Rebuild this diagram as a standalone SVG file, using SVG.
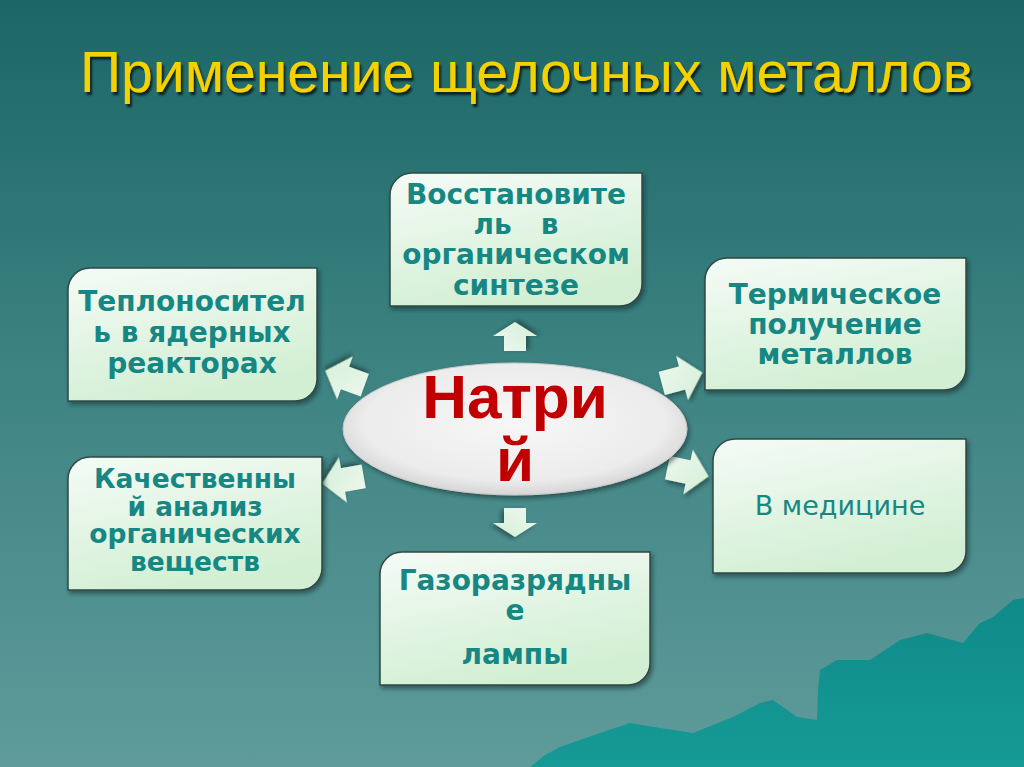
<svg xmlns="http://www.w3.org/2000/svg" width="1024" height="767" viewBox="0 0 1024 767">
<defs>
<linearGradient id="bg" x1="0" y1="0" x2="0" y2="1">
<stop offset="0" stop-color="#1b6666"/>
<stop offset="0.5" stop-color="#3e8483"/>
<stop offset="1" stop-color="#5f9b9b"/>
</linearGradient>
<linearGradient id="boxg" x1="0" y1="0" x2="0.4" y2="1">
<stop offset="0" stop-color="#f5fbf7"/>
<stop offset="1" stop-color="#d2efd3"/>
</linearGradient>
<linearGradient id="arrg" x1="0" y1="0" x2="1" y2="1">
<stop offset="0" stop-color="#eef8f0"/>
<stop offset="1" stop-color="#d4efd6"/>
</linearGradient>
<radialGradient id="ellg" cx="0.5" cy="0.45" r="0.55">
<stop offset="0" stop-color="#f7f7f7"/>
<stop offset="0.8" stop-color="#ececec"/>
<stop offset="1" stop-color="#d6d6d6"/>
</radialGradient>
<linearGradient id="mtn" x1="0" y1="0" x2="0" y2="1">
<stop offset="0" stop-color="#0f8a88"/>
<stop offset="1" stop-color="#169a96"/>
</linearGradient>
<filter id="sh" x="-10%" y="-10%" width="125%" height="130%">
<feDropShadow dx="2" dy="3" stdDeviation="2" flood-color="#0a2a28" flood-opacity="0.55"/>
</filter>
<filter id="tsh" x="-5%" y="-20%" width="110%" height="150%">
<feDropShadow dx="2" dy="3" stdDeviation="1.2" flood-color="#000000" flood-opacity="0.7"/>
</filter>
<polygon id="sideArrow" points="-21,-12 0,-12 0,-23 21,0 0,23 0,12 -21,12"/>
<polygon id="vArrow" points="-15,-11 0,-11 0,-22 14,0 0,22 0,11 -15,11"/>
</defs>
<style>
.box{fill:url(#boxg);stroke:#2e4a46;stroke-width:1.5;filter:url(#sh)}
.t{font-family:"DejaVu Sans",Verdana,sans-serif;font-weight:bold;font-size:28px;fill:#168783;text-anchor:middle}
.ts{font-size:26.5px}
.tn{font-family:"DejaVu Sans",Verdana,sans-serif;font-size:27px;fill:#168783;text-anchor:middle}
.arr{fill:url(#arrg);filter:url(#sh)}
</style>
<rect width="1024" height="767" fill="url(#bg)"/>
<polygon fill="url(#mtn)" points="530,767 545,755 560,747 600,733 630,723 660,728 693,733 733,717 760,703 773,700 790,712 797,717 817,720 818,690 820,670 837,660 870,660 900,640 927,633 963,643 980,623 993,617 1013,600 1024,598 1024,767"/>
<text x="80" y="92" font-family="Liberation Sans, Arial, sans-serif" font-size="58" fill="#f5d100" filter="url(#tsh)" textLength="893" lengthAdjust="spacingAndGlyphs">Применение щелочных металлов</text>

<g id="connectors">
<use href="#vArrow" class="arr" transform="translate(515,336) rotate(-90)"/>
<use href="#vArrow" class="arr" transform="translate(515,523) rotate(90)"/>
<use href="#sideArrow" class="arr" transform="translate(345,378) rotate(200)"/>
<use href="#sideArrow" class="arr" transform="translate(682,378) rotate(-15)"/>
<use href="#sideArrow" class="arr" transform="translate(343,480) rotate(170)"/>
<use href="#sideArrow" class="arr" transform="translate(688,472) rotate(12)"/>
</g>

<g id="center">
<ellipse cx="515" cy="429" rx="172" ry="66" fill="url(#ellg)" stroke="#c8c8c8" stroke-width="1" filter="url(#sh)"/>
<text x="515" y="418" font-family="Liberation Sans, Arial, sans-serif" font-weight="bold" font-size="62" fill="#c00000" text-anchor="middle">Натри</text>
<text x="515" y="481" font-family="Liberation Sans, Arial, sans-serif" font-weight="bold" font-size="62" fill="#c00000" text-anchor="middle">й</text>
</g>

<g id="n-top">
<path class="box" d="M412,173 H642 V284 A22,22 0 0 1 620,306 H390 V195 A22,22 0 0 1 412,173 Z"/>
<text class="t"><tspan x="516" y="204">Восстановите</tspan><tspan x="516" y="234" xml:space="preserve">ль   в</tspan><tspan x="516" y="264">органическом</tspan><tspan x="516" y="295">синтезе</tspan></text>
</g>

<g id="n-lefttop">
<path class="box" d="M90,268 H317 V379 A22,22 0 0 1 295,401 H68 V290 A22,22 0 0 1 90,268 Z"/>
<text class="t"><tspan x="192" y="311">Теплоносител</tspan><tspan x="192" y="342">ь в ядерных</tspan><tspan x="192" y="373">реакторах</tspan></text>
</g>

<g id="n-righttop">
<path class="box" d="M727,258 H966 V368 A22,22 0 0 1 944,390 H705 V280 A22,22 0 0 1 727,258 Z"/>
<text class="t"><tspan x="835" y="304">Термическое</tspan><tspan x="835" y="334">получение</tspan><tspan x="835" y="364">металлов</tspan></text>
</g>

<g id="n-leftbottom">
<path class="box" d="M90,457 H322 V568 A22,22 0 0 1 300,590 H68 V479 A22,22 0 0 1 90,457 Z"/>
<text class="t ts"><tspan x="195" y="488">Качественны</tspan><tspan x="195" y="516">й анализ</tspan><tspan x="195" y="543">органических</tspan><tspan x="195" y="571">веществ</tspan></text>
</g>

<g id="n-bottom">
<path class="box" d="M402,552 H650 V663 A22,22 0 0 1 628,685 H380 V574 A22,22 0 0 1 402,552 Z"/>
<text class="t"><tspan x="515" y="590">Газоразрядны</tspan><tspan x="515" y="620">е</tspan><tspan x="515" y="664">лампы</tspan></text>
</g>

<g id="n-rightbottom">
<path class="box" d="M735,439 H966 V551 A22,22 0 0 1 944,573 H713 V461 A22,22 0 0 1 735,439 Z"/>
<text class="tn" x="840" y="515">В медицине</text>
</g>
</svg>
